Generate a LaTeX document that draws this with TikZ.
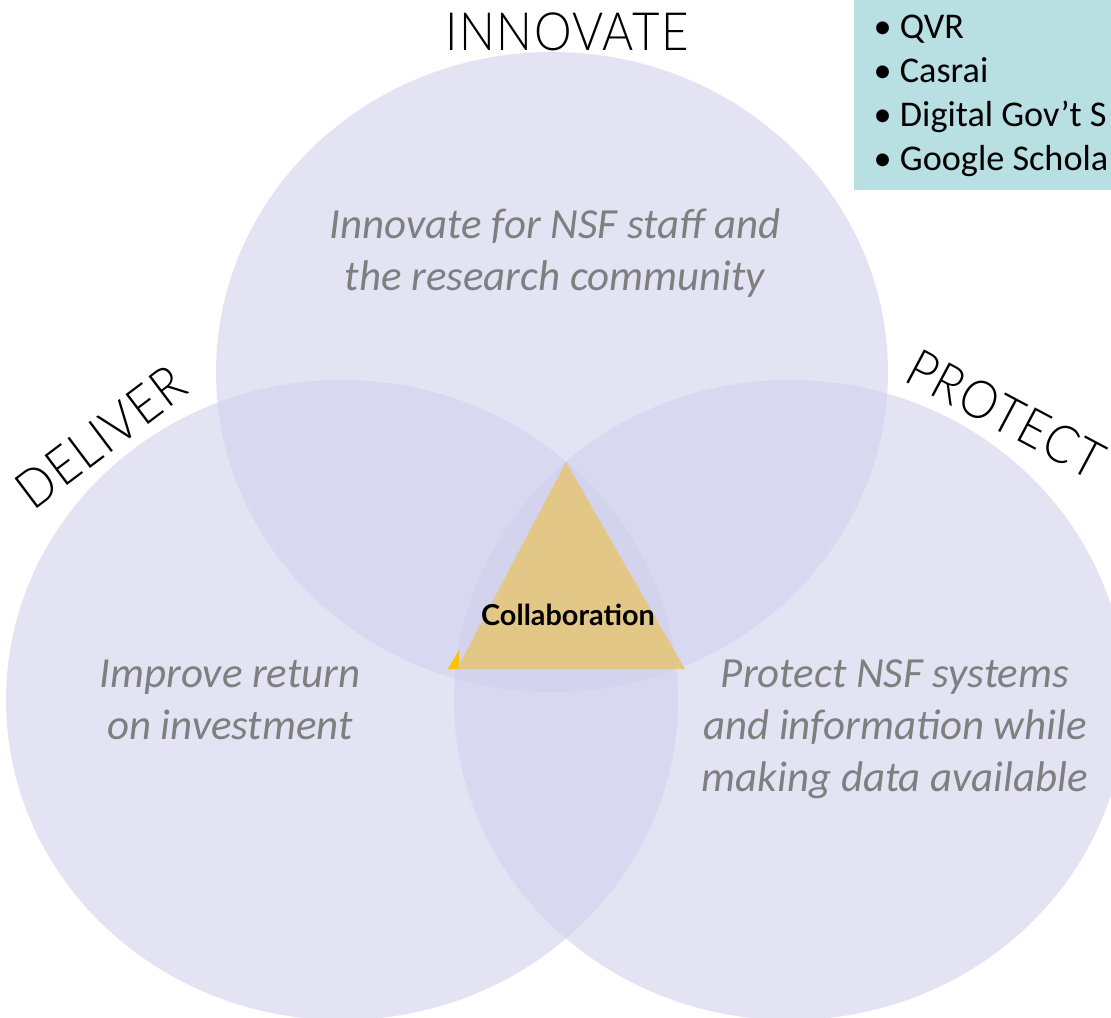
\documentclass[tikz,border=0pt]{standalone}
\usepackage{fontspec}
\setmainfont{Carlito}
\newfontfamily\capsfont{Lato Light}[FakeStretch=0.9, LetterSpace=3]
\newfontfamily\collabfont{Lato}
\definecolor{vennfill}{HTML}{D0D0ED}
\definecolor{areagray}{HTML}{7F7F7F}
\definecolor{collabtan}{HTML}{E2C786}
\definecolor{collaborange}{HTML}{FFC000}
\definecolor{listteal}{HTML}{B8DFE2}

\begin{document}
\begin{tikzpicture}[x=0.01cm, y=-0.01cm,
  venn circle/.style={fill=vennfill, fill opacity=0.6},
  area label/.style={text=areagray, align=center, inner sep=0pt,
    font=\fontsize{12.2}{14.8}\selectfont\itshape},
  title label/.style={inner sep=0pt, font=\capsfont\fontsize{15}{18}\selectfont},
  list item/.style={anchor=base west, inner sep=0pt, font=\fontsize{10.3}{12}\selectfont},
  ]
  \useasboundingbox (0,0) rectangle (1111,1017);
  \clip (0,0) rectangle (1111,1017);
  \coordinate (innovate) at (552,372);
  \coordinate (deliver) at (342,700);
  \coordinate (protect) at (790,700);
  \fill[venn circle] (innovate) ellipse [x radius=336, y radius=320];
  \fill[venn circle] (deliver) ellipse [x radius=336, y radius=320];
  \fill[venn circle] (protect) ellipse [x radius=336, y radius=320];
  % collaboration triangle
  \coordinate (top) at (566,462);
  \coordinate (left) at (457,669);
  \coordinate (right) at (685,669);
  \fill[collaborange] (448,669) -- (459,669) -- (459,650) -- cycle;
  \fill[collabtan] (top) -- (right) -- (left) -- cycle;
  \node[font=\collabfont\bfseries\fontsize{8.2}{10}\selectfont] (collab) at (568,615) {Collaboration};
  % titles
  \node[title label, anchor=base] (innovatetitle) at (567,50) {INNOVATE};
  \node[title label, rotate=37] (delivertitle) at (101,437) {DELIVER};
  \node[title label, rotate=-28] (protecttitle) at (1006,414) {PROTECT};
  % texts in the circles
  \node[area label] (innovatetext) at (555,253) {Innovate for NSF staff and\\the research community};
  \node[area label] (delivertext) at (230,700) {Improve return\\on investment};
  \node[area label] (protecttext) at (895,729) {Protect NSF systems\\and information while\\making data available};
  % list box
  \fill[listteal] (854,0) rectangle (1111,190);
  \node[list item] (item1) at (873,38) {\textbullet\ QVR};
  \node[list item] (item2) at (873,82) {\textbullet\ Casrai};
  \node[list item] (item3) at (873,126) {\textbullet\ Digital Gov’t S};
  \node[list item] (item4) at (873,170) {\textbullet\ Google Schola};
\end{tikzpicture}
\end{document}
